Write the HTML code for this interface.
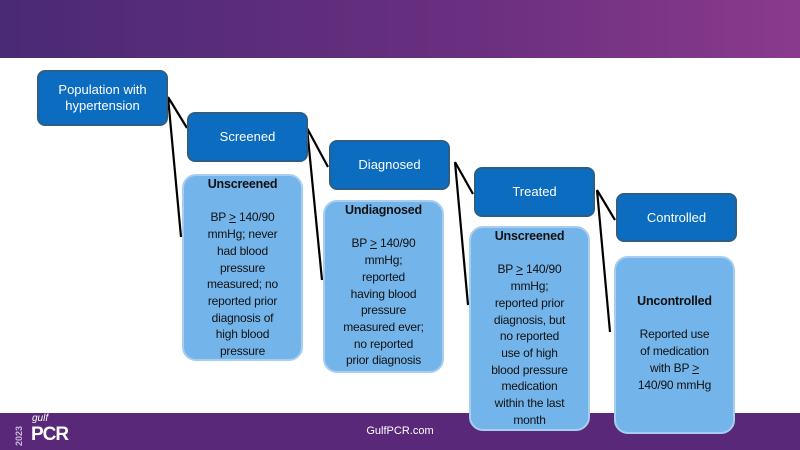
<!DOCTYPE html>
<html><head><style>
body{margin:0;width:800px;height:450px;overflow:hidden;position:relative;background:#fff;font-family:"Liberation Sans",sans-serif}
.hd{position:absolute;left:0;top:0;width:800px;height:58px;background:linear-gradient(90deg,#4a2a74,#6b2f80 60%,#8a3a8c)}
.ft{position:absolute;left:0;top:413px;width:800px;height:37px;background:#5a2878}
.b{position:absolute;box-sizing:border-box;display:flex;align-items:center;justify-content:center;text-align:center;color:#fff;font-size:13px;line-height:16px}
.d{background:#0b6cc0;border:2px solid #2d5f86;border-radius:8px}
.l{display:block;background:#73b4ea;border:2px solid #a9cdee;border-radius:14px;color:#111;font-size:12px;line-height:16.7px;padding-top:0px;letter-spacing:-0.2px}
.l b{display:block;font-size:12.5px}
u{text-decoration:underline}
</style></head><body>
<div class="hd"></div>
<div class="ft"></div>
<div style="position:absolute;left:14px;top:446px;color:#c9b8dc;font-size:9px;font-weight:bold;transform:rotate(-90deg);transform-origin:left top">2023</div>
<div style="position:absolute;left:32px;top:413px;color:#fff;font-size:10px;font-style:italic">gulf</div>
<div style="position:absolute;left:31px;top:424px;color:#fff;font-size:19px;font-weight:bold;letter-spacing:-1px">PCR</div>
<div style="position:absolute;left:0;width:800px;top:425px;text-align:center;color:#fff;font-size:11px">GulfPCR.com</div>
<svg style="position:absolute;left:0;top:0" width="800" height="450">
<g stroke="#000" stroke-width="2.2" fill="none">
<path d="M168 97L187 128M168 97L181 237"/>
<path d="M307 128L328 167M307 128L322 280"/>
<path d="M455 162L473 194M455 162L468 305"/>
<path d="M597 190L615 220M597 190L610 332"/>
</g></svg>
<div class="b d" style="left:37px;top:70px;width:131px;height:56px">Population with<br>hypertension</div>
<div class="b d" style="left:187px;top:112px;width:121px;height:50px">Screened</div>
<div class="b d" style="left:329px;top:140px;width:121px;height:50px">Diagnosed</div>
<div class="b d" style="left:474px;top:167px;width:121px;height:50px">Treated</div>
<div class="b d" style="left:616px;top:193px;width:121px;height:49px">Controlled</div>
<div class="b l" style="left:182px;top:174px;width:121px;height:187px"><b>Unscreened</b><br>BP <u>&gt;</u> 140/90<br>mmHg; never<br>had blood<br>pressure<br>measured; no<br>reported prior<br>diagnosis of<br>high blood<br>pressure</div>
<div class="b l" style="left:323px;top:200px;width:121px;height:173px"><b>Undiagnosed</b><br>BP <u>&gt;</u> 140/90<br>mmHg;<br>reported<br>having blood<br>pressure<br>measured ever;<br>no reported<br>prior diagnosis</div>
<div class="b l" style="left:469px;top:226px;width:121px;height:205px"><b>Unscreened</b><br>BP <u>&gt;</u> 140/90<br>mmHg;<br>reported prior<br>diagnosis, but<br>no reported<br>use of high<br>blood pressure<br>medication<br>within the last<br>month</div>
<div class="b l" style="left:614px;top:256px;width:121px;height:178px;padding-top:35px"><b>Uncontrolled</b><br>Reported use<br>of medication<br>with BP <u>&gt;</u><br>140/90 mmHg</div>
</body></html>
